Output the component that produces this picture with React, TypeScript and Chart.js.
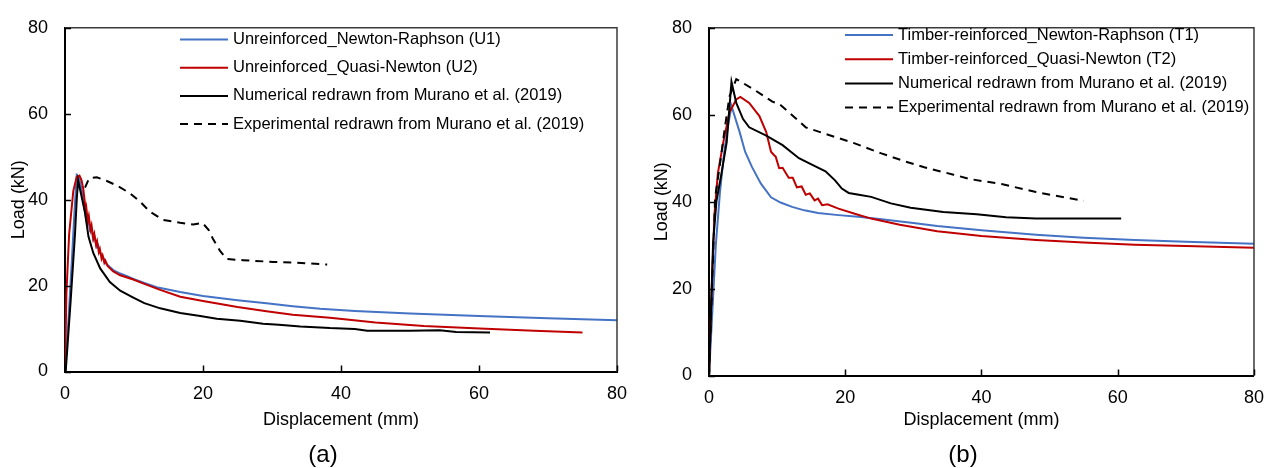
import React, { useEffect, useRef } from 'react';
import { Chart, registerables } from 'chart.js';

Chart.register(...registerables);

const FONT = "'Liberation Sans', Arial, sans-serif";
const BLUE = '#4472C4';
const RED = '#C00000';
const BLACK = '#000000';

// ---------- Panel (a): Unreinforced ----------
const labelsA = [
  'Unreinforced_Newton-Raphson (U1)',
  'Unreinforced_Quasi-Newton (U2)',
  'Numerical redrawn from Murano et al. (2019)',
  'Experimental redrawn from Murano et al. (2019)',
];

const unreinforcedNR: [number, number][] = [
  [0, 0], [0.5, 12], [1.0, 26], [1.4, 38], [1.7, 45.7], [2.0, 45.2], [2.4, 42.5], [2.8, 38],
  [3.1, 35.2], [3.3, 35.8], [3.6, 33], [3.8, 33.5], [4.1, 30.7], [4.3, 31.2], [4.6, 29], [4.8, 29.4],
  [5.1, 27.6], [5.4, 27], [5.6, 26.4], [6.0, 25], [7.0, 23.6], [8.0, 22.8], [9.0, 22.2], [10, 21.5],
  [11.5, 20.6], [13.3, 19.6], [16.7, 18.5], [20, 17.6], [25, 16.6], [29.2, 15.9], [33, 15.2],
  [37, 14.6], [42, 14.1], [50, 13.5], [60, 12.9], [70, 12.4], [80, 11.9],
];

const unreinforcedQN: [number, number][] = [
  [0, 0], [0.2, 18], [0.6, 32], [1.2, 42], [1.7, 45.3], [2.1, 45.6], [2.4, 44.5], [2.65, 42.5],
  [2.9, 39], [3.0, 37], [3.1, 38], [3.3, 35], [3.45, 36.2], [3.7, 33], [3.85, 34], [4.1, 31],
  [4.25, 32], [4.5, 29.5], [4.65, 30.3], [4.9, 27.8], [5.05, 28.5], [5.3, 26.3], [5.45, 27],
  [5.7, 25.3], [5.85, 25.8], [6.2, 24.5], [7, 23.3], [8, 22.4], [9.9, 21.4], [11.5, 20.4],
  [13.8, 19.0], [16.7, 17.4], [20, 16.4], [25, 15.0], [29.2, 14.0], [33, 13.2], [38.4, 12.5],
  [45, 11.4], [52, 10.6], [60.1, 10.0], [68, 9.5], [75, 9.1],
];

const unreinforcedNum: [number, number][] = [
  [0.1, 0], [0.8, 16], [1.45, 32], [1.7, 40], [1.9, 44.5], [2.1, 43], [2.5, 40], [2.9, 37],
  [3.4, 31.4], [4.1, 27.6], [5.1, 24], [6.5, 20.8], [8, 18.8], [9.9, 17.2], [11.5, 15.9],
  [13.8, 14.7], [16.7, 13.6], [19.6, 12.9], [22, 12.3], [25.4, 11.8], [28.7, 11.1], [31, 10.9],
  [34.1, 10.5], [38.4, 10.1], [42, 9.9], [43.8, 9.5], [50, 9.5], [54.3, 9.6], [56.7, 9.2], [61.6, 9.1],
];

const unreinforcedExp: [number, number][] = [
  [2.9, 42.8], [3.5, 45], [4.6, 45.2], [6, 44.4], [7.5, 43.3], [9.4, 41.5], [10.9, 39.5],
  [12.3, 37.2], [14.2, 35.3], [16.7, 34.6], [18.6, 34.2], [19.9, 34.6], [20.8, 33.0], [21.5, 30.7],
  [22.5, 28], [23.4, 26.2], [25.8, 25.9], [30.2, 25.5], [33.6, 25.3], [38, 24.9],
];

// ---------- Panel (b): Timber-reinforced ----------
const labelsB = [
  'Timber-reinforced_Newton-Raphson (T1)',
  'Timber-reinforced_Quasi-Newton (T2)',
  'Numerical redrawn from Murano et al. (2019)',
  'Experimental redrawn from Murano et al. (2019)',
];

const timberNR: [number, number][] = [
  [0, 0], [0.5, 15], [1.0, 30], [1.6, 42], [2.2, 51], [2.8, 57.5], [3.3, 62], [4.5, 56],
  [5.3, 51.5], [6.3, 48], [7.6, 44.2], [9.1, 41.0], [10.5, 39.8], [12.2, 38.8], [14, 38.0],
  [16, 37.4], [19, 36.9], [21.9, 36.5], [25, 36.0], [30, 35.1], [33.5, 34.4], [40, 33.4],
  [48, 32.4], [55, 31.7], [62.5, 31.2], [70, 30.8], [80, 30.3],
];

const timberQN: [number, number][] = [
  [0, 0], [0.4, 20], [0.8, 37], [1.3, 46.5], [2.1, 53.7], [3.0, 60.5], [4.0, 63.5], [4.6, 64.1],
  [5.9, 62.7], [7.4, 59.7], [8.4, 56], [9.1, 51.5], [9.5, 50.8], [9.8, 50.3], [10.3, 47.7],
  [10.8, 47.8], [11.7, 45.5], [12.3, 45.5], [12.9, 43.3], [13.6, 43.5], [14.2, 41.6], [14.8, 41.9],
  [15.5, 40.3], [16.0, 40.7], [16.6, 39.2], [17.4, 39.4], [19, 38.4], [21.4, 37.2], [23.8, 36.1],
  [28, 34.7], [33.5, 33.2], [40, 32.1], [48, 31.2], [55, 30.6], [62.5, 30.1], [70, 29.8], [80, 29.4],
];

const timberNum: [number, number][] = [
  [0, 0], [0.6, 30.5], [1.1, 40.2], [1.8, 46.2], [2.6, 53.7], [3.3, 67.6], [4.0, 62.7], [5.0, 59],
  [5.9, 57.1], [8.4, 55.2], [10.8, 53], [13.2, 50], [15.1, 48.5], [17.1, 47], [18.5, 44.9],
  [19.5, 43], [20.5, 42], [22, 41.6], [23.8, 41.1], [26.7, 39.6], [29.6, 38.6], [34.4, 37.6],
  [39.3, 37.1], [43.6, 36.4], [48, 36.1], [60.5, 36.1],
];

const timberExp: [number, number][] = [
  [0, 0], [0.9, 41], [1.6, 48.5], [2.3, 56.7], [3.0, 64.2], [4.0, 68.2], [6.6, 65.8], [9.3, 63],
  [10.3, 62.5], [12.5, 59.5], [14.2, 57.1], [17.1, 55.6], [21.4, 53.4], [25.3, 51.1], [28.7, 49.3],
  [31.6, 47.9], [35.9, 46.2], [38.3, 45.2], [43.1, 44], [48, 42.2], [55, 40.2],
];

// ---------- Axes ----------
const axisMin = 0;
const axisMax = 80;
const axisStep = 20;
const xTitle = 'Displacement (mm)';
const yTitle = 'Load (kN)';

const colors = [BLUE, RED, BLACK, BLACK];
const dashes: number[][] = [[], [], [], [8, 6]];

type PanelCfg = {
  width: number;
  left: number;
  areaLeft: number;
  areaRight: number;
  areaTop: number;
  areaBottom: number;
  yTitlePad: number;
  legend: { x0: number; x1: number; tx: number; y0: number; dy: number; size: number };
  panel: string;
};

const decorPlugin = {
  id: 'decor',
  afterDatasetsDraw(chart: any, _args: any, opts: any) {
    const { ctx, chartArea: a, scales } = chart;
    ctx.save();
    // top & right frame
    ctx.strokeStyle = '#3a3a3a';
    ctx.lineWidth = 1.5;
    ctx.setLineDash([]);
    ctx.beginPath();
    ctx.moveTo(a.left, a.top);
    ctx.lineTo(a.right, a.top);
    ctx.lineTo(a.right, a.bottom);
    ctx.stroke();
    // inward tick marks
    ctx.strokeStyle = '#000';
    ctx.lineWidth = 1.5;
    ctx.beginPath();
    scales.x.ticks.forEach((t: any) => {
      const px = Math.round(scales.x.getPixelForValue(t.value)) + 0.5;
      ctx.moveTo(px, a.bottom);
      ctx.lineTo(px, a.bottom - 6);
    });
    scales.y.ticks.forEach((t: any) => {
      const py = Math.round(scales.y.getPixelForValue(t.value)) + 0.5;
      ctx.moveTo(a.left, py);
      ctx.lineTo(a.left + 6, py);
    });
    ctx.stroke();
    // legend
    const lg = opts.legend;
    ctx.font = `${lg.size}px ${FONT}`;
    ctx.textBaseline = 'middle';
    ctx.textAlign = 'left';
    chart.data.datasets.forEach((ds: any, i: number) => {
      const y = lg.y0 + i * lg.dy;
      ctx.strokeStyle = ds.borderColor;
      ctx.lineWidth = 2;
      ctx.setLineDash(ds.borderDash || []);
      ctx.beginPath();
      ctx.moveTo(lg.x0, y);
      ctx.lineTo(lg.x1, y);
      ctx.stroke();
      ctx.setLineDash([]);
      ctx.fillStyle = '#000';
      ctx.fillText(ds.label, lg.tx, y);
    });
    // panel label
    ctx.font = `24px ${FONT}`;
    ctx.textAlign = 'center';
    ctx.fillStyle = '#000';
    ctx.fillText(opts.panel, 323, 455);
    ctx.restore();
  },
};

function PanelChart({ cfg, labels, series }: { cfg: PanelCfg; labels: string[]; series: [number, number][][] }) {
  const ref = useRef<HTMLCanvasElement | null>(null);
  useEffect(() => {
    if (!ref.current) return;
    const chart = new Chart(ref.current, {
      type: 'scatter',
      data: {
        datasets: series.map((s, i) => ({
          label: labels[i],
          data: s.map(([x, y]) => ({ x, y })),
          showLine: true,
          borderColor: colors[i],
          backgroundColor: colors[i],
          borderWidth: 2,
          borderDash: dashes[i],
          pointRadius: 0,
          tension: 0,
          order: series.length - i,
        })),
      },
      options: {
        responsive: false,
        animation: false,
        layout: {
          padding: { left: 0, top: cfg.areaTop, right: cfg.width - cfg.areaRight, bottom: 0 },
        },
        plugins: {
          legend: { display: false },
          tooltip: { enabled: false },
          title: { display: false },
          decor: { legend: cfg.legend, panel: cfg.panel },
        } as any,
        scales: {
          x: {
            type: 'linear',
            min: axisMin,
            max: axisMax,
            ticks: { stepSize: axisStep, color: '#000', font: { family: FONT, size: 18 }, padding: 12, maxRotation: 0 },
            grid: { display: false, drawTicks: false },
            border: { display: true, color: '#000', width: 2 },
            title: { display: true, text: xTitle, color: '#000', font: { family: FONT, size: 18 }, padding: { top: 0, bottom: 37 } },
            afterFit: (scale: any) => {
              scale.height = 468 - cfg.areaBottom;
            },
          },
          y: {
            type: 'linear',
            min: axisMin,
            max: axisMax,
            ticks: { stepSize: axisStep, color: '#000', font: { family: FONT, size: 18 }, padding: 17 },
            grid: { display: false, drawTicks: false },
            border: { display: true, color: '#000', width: 2 },
            title: { display: true, text: yTitle, color: '#000', font: { family: FONT, size: 18 }, padding: { top: cfg.yTitlePad, bottom: 0 } },
            afterFit: (scale: any) => {
              scale.width = cfg.areaLeft;
            },
          },
        },
      },
      plugins: [decorPlugin],
    });
    return () => chart.destroy();
  }, []);
  return (
    <canvas
      ref={ref}
      width={cfg.width}
      height={468}
      style={{ position: 'absolute', left: cfg.left, top: 0, width: cfg.width, height: 468, display: 'block' }}
    />
  );
}

const cfgA: PanelCfg = {
  width: 640,
  left: 0,
  areaLeft: 65,
  areaRight: 617,
  areaTop: 20,
  areaBottom: 371.5,
  yTitlePad: 8,
  legend: { x0: 180, x1: 228, tx: 233, y0: 39.5, dy: 28.2, size: 16.5 },
  panel: '(a)',
};

const cfgB: PanelCfg = {
  width: 636,
  left: 640,
  areaLeft: 69,
  areaRight: 621,
  areaTop: 20,
  areaBottom: 375.5,
  yTitlePad: 11,
  legend: { x0: 205, x1: 253, tx: 258, y0: 35, dy: 24.2, size: 16.5 },
  panel: '(b)',
};

export default function App() {
  return (
    <div style={{ position: 'fixed', left: 0, top: 0, width: 1276, height: 468, background: '#fff' }}>
      <PanelChart cfg={cfgA} labels={labelsA} series={[unreinforcedNR, unreinforcedQN, unreinforcedNum, unreinforcedExp]} />
      <PanelChart cfg={cfgB} labels={labelsB} series={[timberNR, timberQN, timberNum, timberExp]} />
    </div>
  );
}
